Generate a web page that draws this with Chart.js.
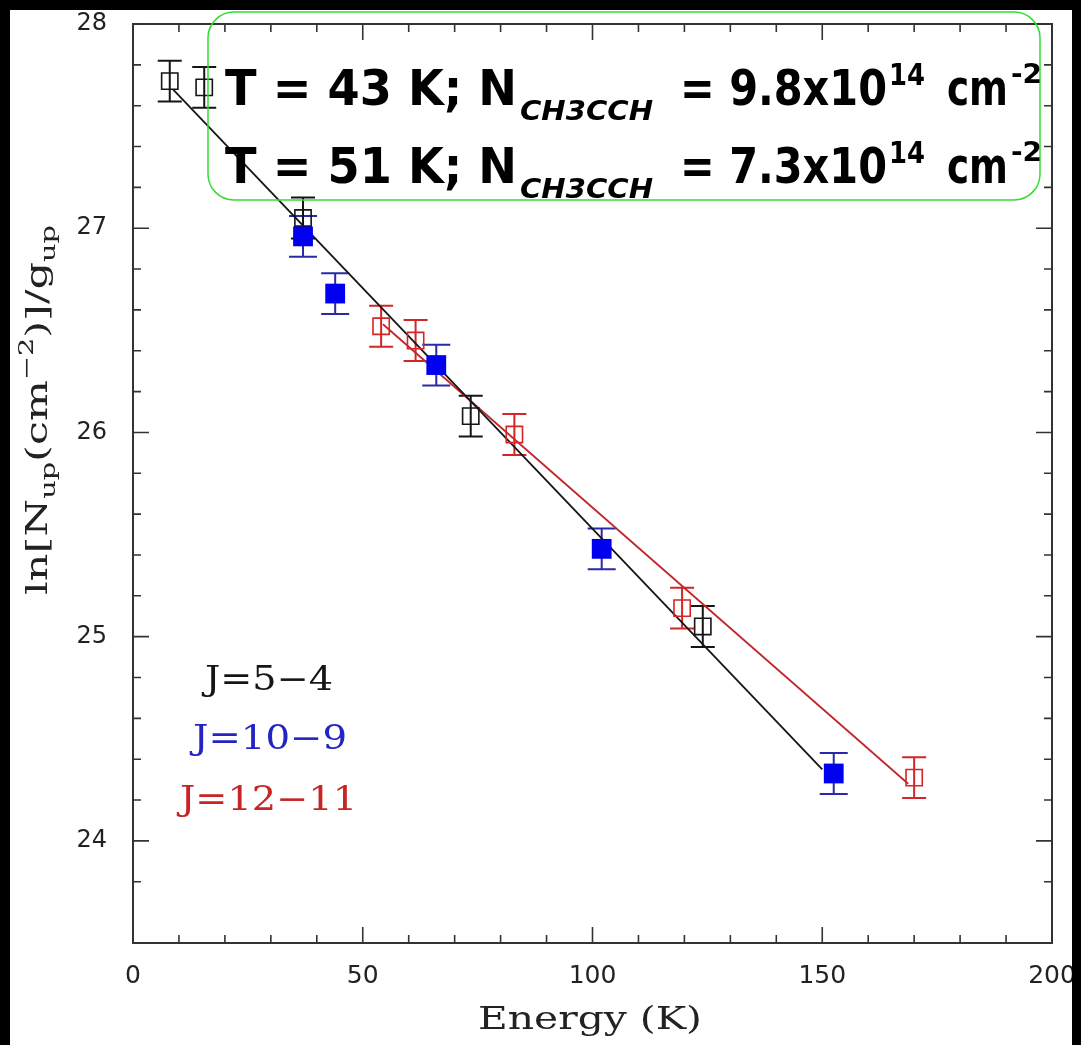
<!DOCTYPE html>
<html lang="en">
<head>
<meta charset="UTF-8">
<title>CH3CCH rotation diagram</title>
<script src="https://cdn.jsdelivr.net/npm/chart.js@4"></script>
<style>
  html, body { margin: 0; padding: 0; background: #000; }
  canvas { display: block; }
</style>
</head>
<body>
<canvas id="chart" width="1081" height="1045"></canvas>
<script>
// J=5-4 (open black squares)
const j54Energy = [8, 15.5, 37, 73.5, 124];
const j54Ln = [27.72, 27.69, 27.05, 26.08, 25.05];
const j54Err = [0.1, 0.1, 0.1, 0.1, 0.1];
// J=10-9 (filled blue squares)
const j109Energy = [37, 44, 66, 102, 152.5];
const j109Ln = [26.96, 26.68, 26.33, 25.43, 24.33];
const j109Err = [0.1, 0.1, 0.1, 0.1, 0.1];
// J=12-11 (open red squares)
const j1211Energy = [54, 61.5, 83, 119.5, 170];
const j1211Ln = [26.52, 26.45, 25.99, 25.14, 24.31];
const j1211Err = [0.1, 0.1, 0.1, 0.1, 0.1];
// rotation-diagram fits
const fit43Energy = [8.7, 150];
const fit43Ln = [27.68, 24.35];
const fit51Energy = [54.4, 168.7];
const fit51Ln = [26.53, 24.28];

const xTickLabels = [0, 50, 100, 150, 200];
const yTickLabels = [24, 25, 26, 27, 28];

const BLACK = '#151515';
const BLUE = '#0000ee';
const BLUE_BAR = '#2a2aa8';
const RED = '#d42626';
const RED_LINE = '#c0282c';
const SERIF = '"DejaVu Serif", "Liberation Serif", serif';
const SANS = '"DejaVu Sans", "Liberation Sans", sans-serif';

const pts = (xs, ys) => xs.map((x, i) => ({ x, y: ys[i] }));

// draw a run of text pieces, squeezed horizontally to a given width
function drawRich(c, pieces, x, y, width) {
  let total = 0;
  pieces.forEach(p => { c.font = p.font; p.w = c.measureText(p.t).width; total += p.w; });
  const k = width / total;
  c.save();
  c.translate(x, y);
  c.scale(k, 1);
  c.textAlign = 'left';
  c.textBaseline = 'alphabetic';
  let cx = 0;
  pieces.forEach(p => {
    c.font = p.font;
    c.fillStyle = p.color || c.fillStyle;
    c.fillText(p.t, cx, p.dy || 0);
    cx += p.w;
  });
  c.restore();
}

// each piece placed at its own x and stretched to its own width
function drawPlaced(c, pieces, baseline) {
  c.textAlign = 'left';
  c.textBaseline = 'alphabetic';
  pieces.forEach(p => {
    c.font = p.font;
    const w = c.measureText(p.t).width;
    c.save();
    c.translate(p.x, baseline + (p.dy || 0));
    c.scale(p.w / w, 1);
    c.fillText(p.t, 0, 0);
    c.restore();
  });
}

const paperPlugin = {
  id: 'paper',
  beforeDraw(chart) {
    const c = chart.ctx;
    c.save();
    c.fillStyle = '#000';
    c.fillRect(0, 0, chart.width, chart.height);
    c.fillStyle = '#fff';
    c.fillRect(10, 10, 1062, 1035);
    c.restore();
  },
  beforeDatasetsDraw(chart) {
    const c = chart.ctx;
    c.save();
    chart.data.datasets.forEach(ds => {
      if (!ds.errors) return;
      c.strokeStyle = ds.barColor;
      c.lineWidth = 2;
      ds.data.forEach((p, i) => {
        const px = chart.scales.x.getPixelForValue(p.x);
        const top = chart.scales.y.getPixelForValue(p.y + ds.errors[i]);
        const bot = chart.scales.y.getPixelForValue(p.y - ds.errors[i]);
        const h = ds.capHalf;
        c.beginPath();
        c.moveTo(px, top); c.lineTo(px, bot);
        c.moveTo(px - h, top); c.lineTo(px + h, top);
        c.moveTo(px - h, bot); c.lineTo(px + h, bot);
        c.stroke();
      });
    });
    c.restore();
  },
  afterDraw(chart) {
    const c = chart.ctx;
    const a = chart.chartArea;
    const xs = chart.scales.x, ys = chart.scales.y;
    c.save();
    // frame
    c.strokeStyle = '#333';
    c.lineWidth = 2;
    c.strokeRect(a.left, a.top, a.right - a.left, a.bottom - a.top);
    // inward ticks on all four sides
    c.lineWidth = 1.6;
    c.beginPath();
    xs.ticks.forEach(t => {
      const px = xs.getPixelForValue(t.value);
      const len = t.value % 50 === 0 ? 16 : 8;
      c.moveTo(px, a.bottom); c.lineTo(px, a.bottom - len);
      c.moveTo(px, a.top); c.lineTo(px, a.top + len);
    });
    ys.ticks.forEach(t => {
      const v = t.value;
      if (Math.abs(v * 5 - Math.round(v * 5)) > 1e-6) return;
      const py = ys.getPixelForValue(v);
      const len = Math.abs(v - Math.round(v)) < 1e-6 ? 16 : 8;
      c.moveTo(a.left, py); c.lineTo(a.left + len, py);
      c.moveTo(a.right, py); c.lineTo(a.right - len, py);
    });
    c.stroke();

    // axis titles
    c.fillStyle = '#222';
    drawRich(c, [{ t: 'Energy (K)', font: '31px ' + SERIF }], 478, 1029, 224);
    c.save();
    c.translate(47, 410);
    c.rotate(-Math.PI / 2);
    drawRich(c, [
      { t: 'ln[N', font: '30px ' + SERIF },
      { t: 'up', font: '20px ' + SERIF, dy: 8 },
      { t: '(cm', font: '30px ' + SERIF },
      { t: '\u22122', font: '20px ' + SERIF, dy: -14 },
      { t: ')]/g', font: '30px ' + SERIF },
      { t: 'up', font: '20px ' + SERIF, dy: 8 }
    ], -185, 0, 370);
    c.restore();

    // transition labels
    drawRich(c, [{ t: 'J=5\u22124', font: '33px ' + SERIF, color: BLACK }], 205, 690, 128);
    drawRich(c, [{ t: 'J=10\u22129', font: '33px ' + SERIF, color: '#2424c4' }], 193, 749, 154);
    drawRich(c, [{ t: 'J=12\u221211', font: '33px ' + SERIF, color: '#c82424' }], 180, 810, 177);

    // fit results box
    c.strokeStyle = '#33dd33';
    c.lineWidth = 1.5;
    c.beginPath();
    c.roundRect(208, 12, 832, 188, 26);
    c.stroke();
    c.fillStyle = '#000';
    const line = (temp, col) => [
      { t: 'T = ' + temp + ' K; N', font: 'bold 50px ' + SANS, x: 225, w: 292 },
      { t: 'CH3CCH', font: 'italic bold 26px ' + SANS, x: 520, w: 133, dy: 15 },
      { t: '= ' + col + 'x10', font: 'bold 50px ' + SANS, x: 680, w: 207 },
      { t: '14', font: 'bold 30px ' + SANS, x: 889, w: 36, dy: -20 },
      { t: 'cm', font: 'bold 50px ' + SANS, x: 947, w: 61 },
      { t: '-2', font: 'bold 27px ' + SANS, x: 1011, w: 31, dy: -22 }
    ];
    drawPlaced(c, line('43', '9.8'), 105);
    drawPlaced(c, line('51', '7.3'), 183);

    // black strip at the right edge of the scan
    c.fillStyle = '#000';
    c.fillRect(1072, 0, chart.width - 1072, chart.height);
    c.restore();
  }
};

new Chart(document.getElementById('chart'), {
  type: 'scatter',
  data: {
    datasets: [
      {
        label: 'J=10-9', data: pts(j109Energy, j109Ln), errors: j109Err,
        barColor: BLUE_BAR, capHalf: 14,
        pointStyle: 'rect', pointRadius: 14, pointBackgroundColor: BLUE,
        pointBorderColor: BLUE, pointBorderWidth: 0
      },
      {
        label: 'J=5-4', data: pts(j54Energy, j54Ln), errors: j54Err,
        barColor: BLACK, capHalf: 12,
        pointStyle: 'rect', pointRadius: 11.5, pointBackgroundColor: 'rgba(0,0,0,0)',
        pointBorderColor: BLACK, pointBorderWidth: 1.6
      },
      {
        label: 'J=12-11', data: pts(j1211Energy, j1211Ln), errors: j1211Err,
        barColor: RED, capHalf: 12,
        pointStyle: 'rect', pointRadius: 11.5, pointBackgroundColor: 'rgba(0,0,0,0)',
        pointBorderColor: RED, pointBorderWidth: 1.6
      },
      {
        label: 'T = 43 K', data: pts(fit43Energy, fit43Ln), showLine: true,
        borderColor: BLACK, borderWidth: 1.8, pointRadius: 0
      },
      {
        label: 'T = 51 K', data: pts(fit51Energy, fit51Ln), showLine: true,
        borderColor: RED_LINE, borderWidth: 1.8, pointRadius: 0
      }
    ]
  },
  options: {
    responsive: false,
    animation: false,
    events: [],
    layout: { padding: { left: 10, top: 24, right: 29, bottom: 0 } },
    plugins: { legend: { display: false }, tooltip: { enabled: false } },
    scales: {
      x: {
        type: 'linear', min: 0, max: 200,
        grid: { display: false }, border: { display: false },
        ticks: {
          stepSize: 10, autoSkip: false, maxRotation: 0, padding: 10,
          color: '#222', font: { family: SANS, size: 25 },
          callback: v => xTickLabels.includes(v) ? String(v) : ''
        },
        afterFit: s => { s.height = 102; s.paddingLeft = 0; s.paddingRight = 0; }
      },
      y: {
        type: 'linear', min: 23.5, max: 28,
        grid: { display: false }, border: { display: false },
        ticks: {
          stepSize: 0.2, autoSkip: false, padding: 18,
          color: '#222', font: { family: SANS, size: 24 },
          callback: v => {
            const r = Math.round(v);
            return Math.abs(v - r) < 1e-6 && yTickLabels.includes(r) ? String(r) : '';
          }
        },
        afterFit: s => { s.width = 123; s.paddingTop = 0; s.paddingBottom = 0; }
      }
    }
  },
  plugins: [paperPlugin]
});
</script>
</body>
</html>
